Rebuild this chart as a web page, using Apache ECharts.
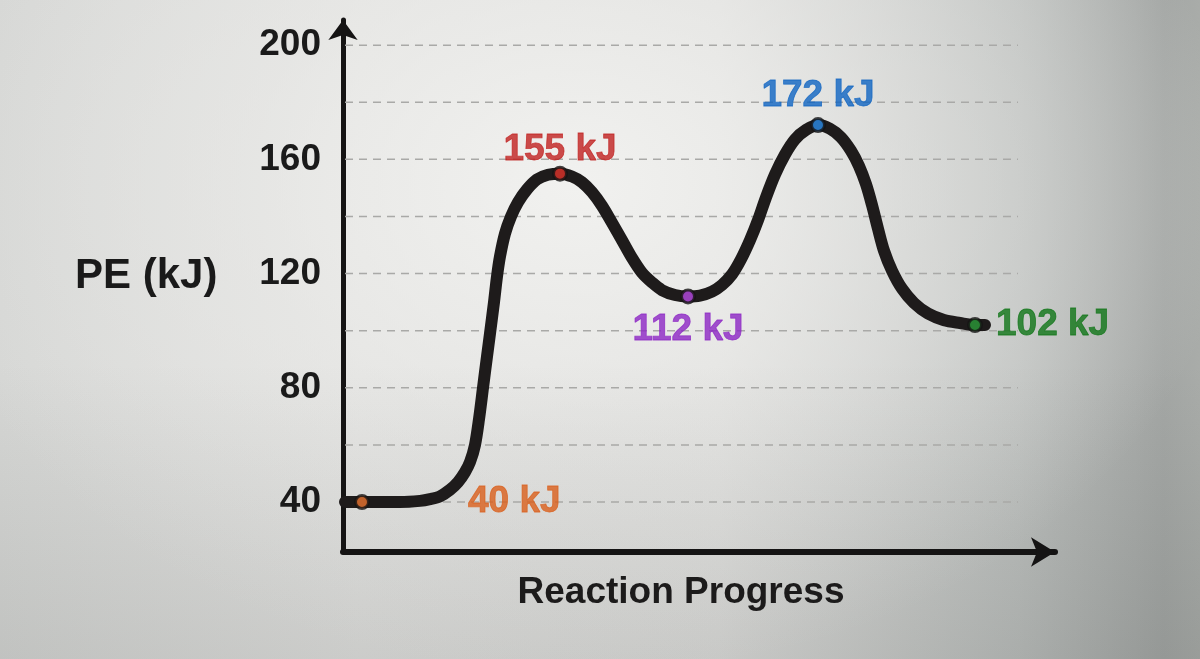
<!DOCTYPE html>
<html>
<head>
<meta charset="utf-8">
<script src="https://cdn.jsdelivr.net/npm/echarts@6/dist/echarts.min.js"></script>
<style>
  html, body { margin: 0; padding: 0; }
  #chart {
    width: 1200px; height: 659px;
    background:
      linear-gradient(to bottom, rgba(0,0,0,0) 55%, rgba(40,45,42,0.12) 100%),
      radial-gradient(ellipse 55% 75% at 48% 28%, rgba(242,242,240,0.95) 0%, rgba(236,236,234,0.5) 50%, rgba(230,230,228,0) 100%),
      linear-gradient(to right, #d6d7d5 0%, #e2e2e0 30%, #dededc 60%, #bcbfbd 85%, #a4a7a5 97%, #a9aca9 100%);
  }
</style>
</head>
<body>
<div id="chart"></div>
<script>
// ---- data ----
const curveProgress = [2, 19, 57, 77, 87, 97, 107, 115, 122, 127, 132, 136, 140, 144, 147, 151, 154, 157, 162, 168, 175, 184, 194, 205, 217,
  229, 239, 249, 259, 269, 279, 289, 299, 309, 319, 332, 345,
  357, 369, 379, 389, 398, 407, 415, 423, 432, 442, 452, 463, 475,
  487, 498, 508, 516, 523, 529, 535, 541, 549, 559, 571, 585, 601, 617, 632, 642];
const curvePE = [40, 40, 40, 40.4, 41, 42, 44.3, 47, 50.5, 54, 60, 69, 80, 91, 99, 110, 119, 126, 134, 140, 145, 149.5, 153, 154.6, 155,
  154, 152, 148.5, 143.7, 137.8, 131.7, 125.5, 120.3, 116.9, 114.2, 112.5, 112,
  112.3, 113.7, 116, 119.7, 125, 131.7, 138.7, 146.7, 154.7, 161.7, 167, 170.3, 172,
  170.7, 167.7, 163, 157.7, 151.3, 144, 135.7, 128, 121, 114.7, 109.7, 106, 103.7, 102.7, 102, 102];
const keyProgress = [19, 217, 345, 475, 632];
const keyPE       = [40, 155, 112, 172, 102];
const keyColors   = ['#ea7430', '#e0332a', '#b84ae6', '#2b8ce8', '#2a9a38'];
const keyTextColors = ['#d95f1c', '#c0211f', '#8c26c4', '#0f64c2', '#107618'];
const yTickLabels = [40, 80, 120, 160, 200];
const gridValues  = [40, 60, 80, 100, 120, 140, 160, 180, 200];
const xAxisName = 'Reaction Progress';
const yAxisName = 'PE (kJ)';

// ---- label placement (style) ----
const labelPlace = [
  { position: 'right', distance: 98 },
  { position: 'top', distance: -3 },
  { position: 'bottom', distance: 7 },
  { position: 'top', distance: 3 },
  { position: 'right', distance: 13 }
];
const gridStart = 2;
const gridEnd = 675;
const FONT = '"Liberation Sans", Arial, Helvetica, sans-serif';

const chart = echarts.init(document.getElementById('chart'), null, { renderer: 'canvas' });

const curveData = curveProgress.map((x, i) => [x, curvePE[i]]);
const keyData = keyProgress.map((x, i) => ({
  value: [x, keyPE[i]],
  itemStyle: { color: keyColors[i], borderColor: '#151414', borderWidth: 3 },
  label: {
    show: true,
    formatter: keyPE[i] + ' kJ',
    position: labelPlace[i].position,
    distance: labelPlace[i].distance,
    color: keyTextColors[i],
    fontSize: 37,
    fontWeight: 'bold',
    fontFamily: FONT,
    textBorderColor: keyTextColors[i],
    textBorderWidth: 0.8
  }
}));

const gridSeries = gridValues.map(v => ({
  name: 'grid' + v, type: 'line', z: 1, silent: true,
  data: [[gridStart, v], [gridEnd, v]],
  showSymbol: false, symbol: 'none',
  lineStyle: { color: '#a9a9a7', width: 1.5, type: [8, 6] }
}));

const option = {
  animation: false,
  backgroundColor: 'transparent',
  grid: { left: 343, right: 145, top: 20, bottom: 107, containLabel: false },
  graphic: [{
    type: 'text', left: 75, top: 255, silent: true,
    style: {
      text: yAxisName, fill: '#1a1a1a',
      font: 'bold 42px ' + FONT
    }
  }],
  xAxis: {
    type: 'value', min: 0, max: 712,
    axisLine: {
      show: true, onZero: false,
      lineStyle: { color: '#151414', width: 6 },
      symbol: ['none', 'arrow'], symbolSize: [22, 24], symbolOffset: [0, 0]
    },
    axisTick: { show: false },
    axisLabel: { show: false },
    splitLine: { show: false },
    name: xAxisName,
    nameLocation: 'middle',
    nameGap: 22,
    nameTextStyle: {
      color: '#1c1b1b', fontSize: 37, fontWeight: 'bold', fontFamily: FONT,
      padding: [0, 36, 0, 0]
    }
  },
  yAxis: {
    type: 'value', min: 22.5, max: 208.8,
    axisLine: {
      show: true, onZero: false,
      lineStyle: { color: '#151414', width: 5 },
      symbol: ['none', 'arrow'], symbolSize: [22, 20], symbolOffset: [0, 0]
    },
    axisTick: { show: false },
    axisLabel: {
      show: true, customValues: yTickLabels, margin: 22,
      color: '#1a1a1a', fontSize: 37, fontWeight: 'bold', fontFamily: FONT
    },
    splitLine: { show: false }
  },
  series: gridSeries.concat([
    {
      name: 'PE', type: 'line', data: curveData, z: 3,
      smooth: 0.3,
      showSymbol: false, symbol: 'none', silent: true,
      lineStyle: { color: '#1e1b1b', width: 12, cap: 'round', join: 'round' }
    },
    {
      name: 'key', type: 'scatter', data: keyData, z: 5,
      symbol: 'circle', symbolSize: 13, silent: true
    }
  ])
};
chart.setOption(option);
</script>
</body>
</html>
